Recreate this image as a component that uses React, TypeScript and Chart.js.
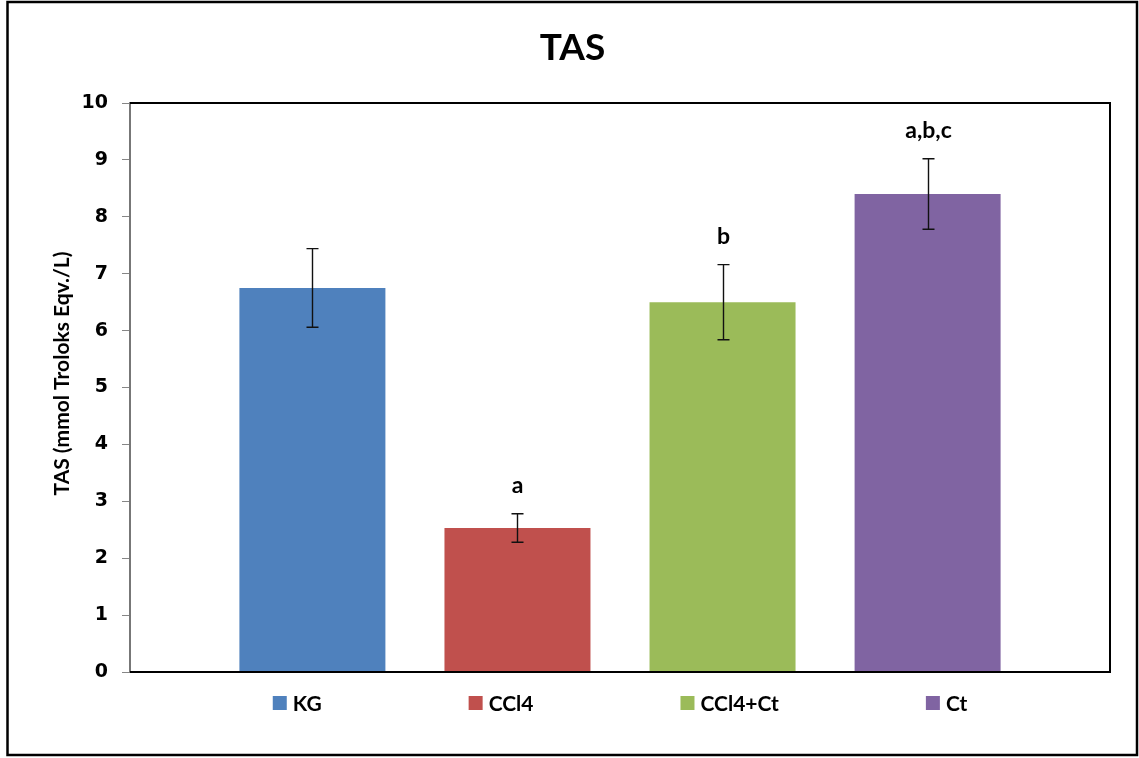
import React, { useEffect, useRef } from 'react';
import { Chart, registerables } from 'chart.js';

Chart.register(...registerables);

// Groups, mean TAS values and their error margins
const groups = ['KG', 'CCl4', 'CCl4+Ct', 'Ct'];
const means = [6.75, 2.53, 6.5, 8.4];
const errors = [0.69, 0.25, 0.66, 0.62];
const sigLetters = ['', 'a', 'b', 'a,b,c'];
const colors = ['#4F81BD', '#C0504D', '#9BBB59', '#8064A2'];

const yMin = 0;
const yMax = 10;
const yStep = 1;

const chartTitle = 'TAS';
const yTitle = 'TAS (mmol Troloks Eqv./L)';

const W = 1139;
const H = 758;

const LABEL_FONT = 'Lato, "DejaVu Sans", sans-serif';

const decorPlugin = {
  id: 'decor',
  beforeDraw(chart: any) {
    const ctx = chart.ctx;
    ctx.save();
    ctx.fillStyle = '#ffffff';
    ctx.fillRect(0, 0, chart.width, chart.height);
    ctx.restore();
  },
  afterDatasetsDraw(chart: any) {
    const ctx = chart.ctx;
    const ys = chart.scales.y;
    const { left, right, top, bottom } = chart.chartArea;
    ctx.save();

    // error bars and significance letters
    chart.data.datasets.forEach((_ds: any, i: number) => {
      const bar = chart.getDatasetMeta(i).data[0];
      const x = Math.round(bar.x) + 0.5;
      const yHi = ys.getPixelForValue(means[i] + errors[i]);
      const yLo = ys.getPixelForValue(means[i] - errors[i]);
      ctx.strokeStyle = '#111';
      ctx.lineWidth = 1.4;
      ctx.beginPath();
      ctx.moveTo(x, yHi);
      ctx.lineTo(x, yLo);
      ctx.moveTo(x - 6, yHi);
      ctx.lineTo(x + 6, yHi);
      ctx.moveTo(x - 6, yLo);
      ctx.lineTo(x + 6, yLo);
      ctx.stroke();

      if (sigLetters[i]) {
        ctx.fillStyle = '#000';
        ctx.font = `700 23px ${LABEL_FONT}`;
        ctx.textAlign = 'center';
        ctx.textBaseline = 'middle';
        ctx.fillText(sigLetters[i], x, yHi - 28);
      }
    });

    // plot frame: top, right and bottom edges
    ctx.strokeStyle = '#000';
    ctx.lineWidth = 2;
    ctx.beginPath();
    ctx.moveTo(left, top);
    ctx.lineTo(right, top);
    ctx.lineTo(right, bottom);
    ctx.lineTo(left, bottom);
    ctx.stroke();
    ctx.restore();
  },
  afterDraw(chart: any) {
    const ctx = chart.ctx;
    const { left, right, top, bottom } = chart.chartArea;
    ctx.save();

    // chart title
    ctx.fillStyle = '#000';
    ctx.font = `700 37px ${LABEL_FONT}`;
    ctx.textAlign = 'center';
    ctx.textBaseline = 'middle';
    ctx.fillText(chartTitle, W / 2 + 3, 48);

    // y-axis title, rotated
    ctx.save();
    ctx.translate(62, (top + bottom) / 2 - 14);
    ctx.rotate(-Math.PI / 2);
    ctx.font = `700 21px ${LABEL_FONT}`;
    ctx.textAlign = 'center';
    ctx.textBaseline = 'middle';
    ctx.fillText(yTitle, 0, 0);
    ctx.restore();

    // legend row under the plot
    ctx.font = `700 21px ${LABEL_FONT}`;
    const box = 14;
    const boxGap = 6;
    const itemGap = 147;
    const widths = groups.map((g) => box + boxGap + ctx.measureText(g).width);
    const total = widths.reduce((a, b) => a + b, 0) + itemGap * (groups.length - 1);
    let x = (left + right) / 2 - total / 2;
    const ly = 703;
    groups.forEach((g, i) => {
      ctx.fillStyle = colors[i];
      ctx.fillRect(x, ly - box / 2, box, box);
      ctx.fillStyle = '#000';
      ctx.textAlign = 'left';
      ctx.textBaseline = 'middle';
      ctx.fillText(g, x + box + boxGap, ly + 1);
      x += widths[i] + itemGap;
    });

    // outer frame
    ctx.strokeStyle = '#000';
    ctx.lineWidth = 2.5;
    ctx.strokeRect(7.5, 2, 1129.5, 753);
    ctx.restore();
  },
};

export default function App() {
  const canvasRef = useRef<HTMLCanvasElement | null>(null);

  useEffect(() => {
    const canvas = canvasRef.current;
    if (!canvas) return;
    const chart = new Chart(canvas, {
      type: 'bar',
      data: {
        labels: [''],
        datasets: groups.map((g, i) => ({
          label: g,
          data: [means[i]],
          backgroundColor: colors[i],
          borderWidth: 0,
          categoryPercentage: 0.837,
          barPercentage: 0.712,
        })),
      },
      options: {
        responsive: false,
        animation: false,
        devicePixelRatio: 1,
        layout: { padding: { left: 0, right: 29, top: 103, bottom: 86 } },
        plugins: {
          legend: { display: false },
          title: { display: false },
          tooltip: { enabled: false },
        },
        scales: {
          x: { display: false, offset: true },
          y: {
            min: yMin,
            max: yMax,
            afterFit(scale: any) {
              scale.width = 130;
            },
            ticks: {
              stepSize: yStep,
              padding: 14,
              color: '#000',
              font: { family: '"DejaVu Sans", sans-serif', size: 19, weight: 'bold' },
            },
            grid: {
              display: true,
              drawOnChartArea: false,
              drawTicks: true,
              tickLength: 8,
              color: '#868686',
              lineWidth: 1,
            },
            border: { display: true, color: '#777777', width: 2 },
            title: { display: false },
          },
        },
      },
      plugins: [decorPlugin],
    });
    return () => chart.destroy();
  }, []);

  return (
    <div style={{ position: 'absolute', left: 0, top: 0, width: W, height: H }}>
      <canvas ref={canvasRef} width={W} height={H} />
    </div>
  );
}
